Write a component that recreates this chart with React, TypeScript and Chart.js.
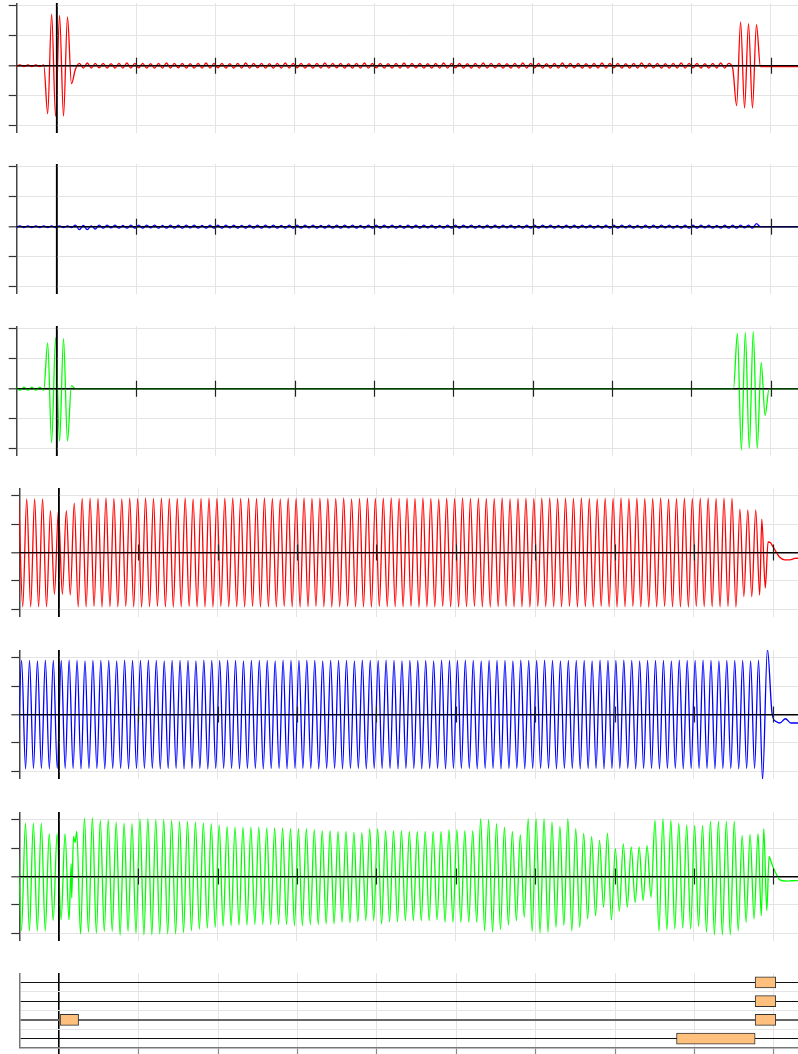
import React, { useEffect, useRef } from "react";
import { Chart, registerables } from "chart.js";

Chart.register(...registerables);

// ---------------- axes (time in ms) ----------------
const X_TICKS = [0, 20, 40, 60, 80, 100, 120, 140, 160, 180];
const WAVE_Y_TICKS = [-2, -1, 0, 1, 2];
const EVENT_Y_TICKS = [1, 1.5, 2, 2.5, 3, 3.5, 4];
// spacing between successive extrema (half an oscillation period), ms
const HALF_PERIOD_MS = 0.998;

// ---------------- panel 1 (red) ----------------
const P1_SEG_T0 = [-10.25, -2.27, 4.72, 171.4, 177.4, 186.9];
const P1_SEG_V = [
  [-0.03, 0.03, -0.03, 0.03, -0.03, 0.03, -0.03, 0.03],
  [-1.6, 1.72, -1.69, 1.68, -1.68, 1.63, -0.6],
  [
    -0.12,
    0.08, -0.08, 0.09, -0.08, 0.08, -0.07, 0.08, -0.08, 0.07, -0.08, 0.08, -0.08, 0.09, -0.08, 0.08, -0.07, 0.08, -0.08, 0.07, -0.08,
    0.08, -0.08, 0.09, -0.08, 0.08, -0.07, 0.08, -0.08, 0.07, -0.08, 0.08, -0.08, 0.09, -0.08, 0.08, -0.07, 0.08, -0.08, 0.07, -0.08,
    0.08, -0.08, 0.09, -0.08, 0.08, -0.07, 0.08, -0.08, 0.07, -0.08, 0.08, -0.08, 0.09, -0.08, 0.08, -0.07, 0.08, -0.08, 0.07, -0.08,
    0.08, -0.08, 0.09, -0.08, 0.08, -0.07, 0.08, -0.08, 0.07, -0.08, 0.08, -0.08, 0.09, -0.08, 0.08, -0.07, 0.08, -0.08, 0.07, -0.08,
    0.08, -0.08, 0.09, -0.08, 0.08, -0.07, 0.08, -0.08, 0.07, -0.08, 0.08, -0.08, 0.09, -0.08, 0.08, -0.07, 0.08, -0.08, 0.07, -0.08,
    0.08, -0.08, 0.09, -0.08, 0.08, -0.07, 0.08, -0.08, 0.07, -0.08, 0.08, -0.08, 0.09, -0.08, 0.08, -0.07, 0.08, -0.08, 0.07, -0.08,
    0.08, -0.08, 0.09, -0.08, 0.08, -0.07, 0.08, -0.08, 0.07, -0.08, 0.08, -0.08, 0.09, -0.08, 0.08, -0.07, 0.08, -0.08, 0.07, -0.08,
    0.08, -0.08, 0.09, -0.08, 0.08, -0.07, 0.08, -0.08, 0.07, -0.08, 0.08, -0.08, 0.09, -0.08, 0.08, -0.07, 0.08, -0.08, 0.07, -0.08,
    0.08, -0.08, 0.09, -0.08, 0.08, -0.07, 0.08, -0.08, 0.07, -0.08,
  ],
  [-1.33, 1.46, -1.41, 1.4, -1.41, 1.37],
  [-0.03],
  [-0.03],
];

// ---------------- panel 2 (blue) ----------------
const P2_SEG_T0 = [-10.25, 4.72, 10.71, 176.4, 186.9];
const P2_SEG_V = [
  [-0.03, 0.03, -0.03, 0.03, -0.03, 0.03, -0.03, 0.03, -0.03, 0.03, -0.03, 0.03, -0.03, 0.03, -0.03],
  [0.05, -0.1, 0.04, -0.1, 0.03, -0.08],
  [
    0.05, -0.05, 0.05, -0.04, 0.05, -0.05, 0.04, -0.05, 0.05, -0.05, 0.05, -0.05, 0.05, -0.04, 0.05, -0.05, 0.04, -0.05, 0.05, -0.05,
    0.05, -0.05, 0.05, -0.04, 0.05, -0.05, 0.04, -0.05, 0.05, -0.05, 0.05, -0.05, 0.05, -0.04, 0.05, -0.05, 0.04, -0.05, 0.05, -0.05,
    0.05, -0.05, 0.05, -0.04, 0.05, -0.05, 0.04, -0.05, 0.05, -0.05, 0.05, -0.05, 0.05, -0.04, 0.05, -0.05, 0.04, -0.05, 0.05, -0.05,
    0.05, -0.05, 0.05, -0.04, 0.05, -0.05, 0.04, -0.05, 0.05, -0.05, 0.05, -0.05, 0.05, -0.04, 0.05, -0.05, 0.04, -0.05, 0.05, -0.05,
    0.05, -0.05, 0.05, -0.04, 0.05, -0.05, 0.04, -0.05, 0.05, -0.05, 0.05, -0.05, 0.05, -0.04, 0.05, -0.05, 0.04, -0.05, 0.05, -0.05,
    0.05, -0.05, 0.05, -0.04, 0.05, -0.05, 0.04, -0.05, 0.05, -0.05, 0.05, -0.05, 0.05, -0.04, 0.05, -0.05, 0.04, -0.05, 0.05, -0.05,
    0.05, -0.05, 0.05, -0.04, 0.05, -0.05, 0.04, -0.05, 0.05, -0.05, 0.05, -0.05, 0.05, -0.04, 0.05, -0.05, 0.04, -0.05, 0.05, -0.05,
    0.05, -0.05, 0.05, -0.04, 0.05, -0.05, 0.04, -0.05, 0.05, -0.05, 0.05, -0.05, 0.05, -0.04, 0.05, -0.05, 0.04, -0.05, 0.05, -0.05,
    0.05, -0.05, 0.05, -0.04, 0.05, -0.05, 0.04, -0.05,
  ],
  [0.1, 0],
  [0],
];

// ---------------- panel 3 (green) ----------------
const P3_SEG_T0 = [-10.25, -2.27, 170.6, 186.9];
const P3_SEG_V = [
  [0.05, -0.05, 0.05, -0.05, 0.05, -0.05, 0.05, -0.05],
  [1.53, -1.8, 1.7, -1.75, 1.67, -1.75, 0.1, 0],
  [0, 1.84, -2.05, 1.88, -1.99, 1.91, -1.99, 0.88, -0.89, 0, 0],
  [0],
];

// ---------------- panel 4 (red) ----------------
const P4_SEG_T0 = [-10.08, 5.89, 171.56];
const P4_SEG_V = [
  [1.89, -1.91, 1.89, -1.91, 1.89, -1.91, 1.89, -1.91, 1.47, -1.47, 1.47, -1.47, 1.47, -1.5, 1.74, -1.91],
  [
    1.9, -1.91, 1.91, -1.9, 1.9, -1.92, 1.92, -1.91, 1.9, -1.91, 1.89, -1.9, 1.91, -1.91, 1.9, -1.92, 1.92, -1.91, 1.9, -1.9,
    1.91, -1.91, 1.9, -1.92, 1.9, -1.91, 1.92, -1.9, 1.89, -1.91, 1.9, -1.91, 1.91, -1.92, 1.9, -1.9, 1.91, -1.91, 1.92, -1.91,
    1.9, -1.91, 1.91, -1.9, 1.9, -1.92, 1.92, -1.91, 1.9, -1.91, 1.89, -1.9, 1.91, -1.91, 1.9, -1.92, 1.92, -1.91, 1.9, -1.9,
    1.91, -1.91, 1.9, -1.92, 1.9, -1.91, 1.92, -1.9, 1.89, -1.91, 1.9, -1.91, 1.91, -1.92, 1.9, -1.9, 1.91, -1.91, 1.92, -1.91,
    1.9, -1.91, 1.91, -1.9, 1.9, -1.92, 1.92, -1.91, 1.9, -1.91, 1.89, -1.9, 1.91, -1.91, 1.9, -1.92, 1.92, -1.91, 1.9, -1.9,
    1.91, -1.91, 1.9, -1.92, 1.9, -1.91, 1.92, -1.9, 1.89, -1.91, 1.9, -1.91, 1.91, -1.92, 1.9, -1.9, 1.91, -1.91, 1.92, -1.91,
    1.9, -1.91, 1.91, -1.9, 1.9, -1.92, 1.92, -1.91, 1.9, -1.91, 1.89, -1.9, 1.91, -1.91, 1.9, -1.92, 1.92, -1.91, 1.9, -1.9,
    1.91, -1.91, 1.9, -1.92, 1.9, -1.91, 1.92, -1.9, 1.89, -1.91, 1.9, -1.91, 1.91, -1.92, 1.9, -1.9, 1.91, -1.91, 1.92, -1.91,
    1.9, -1.91, 1.91, -1.9, 1.9, -1.92, 1.92, -1.91, 1.9, -1.91,
  ],
  [1.53, -1.55, 1.5, -1.55, 1.5, -1.5],
];
const P4_TAIL_T = [177.08, 177.96, 178.66, 179.22, 179.92, 180.78, 181.61, 182.87, 184.13, 185.39, 186.6];
const P4_TAIL_V = [1.17, -1.25, 0.37, 0.35, 0.2, 0.0, -0.17, -0.26, -0.26, -0.21, -0.2];

// ---------------- panel 5 (blue) ----------------
const P5_SEG_T0 = [-10.37];
const P5_SEG_V = [
  [
    -1.9, 1.9, -1.91, 1.9, -1.9, 1.89, -1.9, 1.91, -1.91, 1.9, -1.9, 1.9, -1.9, 1.91, -1.9, 1.9, -1.91, 1.89, -1.9, 1.9,
    -1.9, 1.9, -1.91, 1.9, -1.9, 1.89, -1.9, 1.91, -1.91, 1.9, -1.9, 1.9, -1.9, 1.91, -1.9, 1.9, -1.91, 1.89, -1.9, 1.9,
    -1.9, 1.9, -1.91, 1.9, -1.9, 1.89, -1.9, 1.91, -1.91, 1.9, -1.9, 1.9, -1.9, 1.91, -1.9, 1.9, -1.91, 1.89, -1.9, 1.9,
    -1.9, 1.9, -1.91, 1.9, -1.9, 1.89, -1.9, 1.91, -1.91, 1.9, -1.9, 1.9, -1.9, 1.91, -1.9, 1.9, -1.91, 1.89, -1.9, 1.9,
    -1.9, 1.9, -1.91, 1.9, -1.9, 1.89, -1.9, 1.91, -1.91, 1.9, -1.9, 1.9, -1.9, 1.91, -1.9, 1.9, -1.91, 1.89, -1.9, 1.9,
    -1.9, 1.9, -1.91, 1.9, -1.9, 1.89, -1.9, 1.91, -1.91, 1.9, -1.9, 1.9, -1.9, 1.91, -1.9, 1.9, -1.91, 1.89, -1.9, 1.9,
    -1.9, 1.9, -1.91, 1.9, -1.9, 1.89, -1.9, 1.91, -1.91, 1.9, -1.9, 1.9, -1.9, 1.91, -1.9, 1.9, -1.91, 1.89, -1.9, 1.9,
    -1.9, 1.9, -1.91, 1.9, -1.9, 1.89, -1.9, 1.91, -1.91, 1.9, -1.9, 1.9, -1.9, 1.91, -1.9, 1.9, -1.91, 1.89, -1.9, 1.9,
    -1.9, 1.9, -1.91, 1.9, -1.9, 1.89, -1.9, 1.91, -1.91, 1.9, -1.9, 1.9, -1.9, 1.91, -1.9, 1.9, -1.91, 1.89, -1.9, 1.9,
    -1.9, 1.9, -1.91, 1.9, -1.9, 1.89, -1.9, 1.91, -1.91, 1.9,
  ],
];
const P5_TAIL_T = [177.28, 178.5, 179.7, 180.7, 181.6, 183.05, 184.4, 186.6];
const P5_TAIL_V = [-2.28, 2.3, 0.0, -0.25, -0.3, -0.15, -0.3, -0.3];

// ---------------- panel 6 (green) ----------------
const P6A_T0 = -10.4;
const P6A_V = [1.88, -1.91, 1.88, -1.91, 1.88, -1.91, 1.88, -1.91, 1.51, -1.55, 1.51, -1.53, 1.51, -1.53];
const P6_GLITCH_T = [3.12, 3.25, 3.7, 4.1, 4.53];
const P6_GLITCH_V = [0.45, -0.75, 1.41, 1.2, 1.59];
const P6B_T0 = 5.47;
const P6_BOTTOMS = [
  -2.02, -1.96, -2.0, -1.94, -1.93, -2.07, -1.93, -2.0, -2.05, -2.05,
  -2.02, -2.02, -2.02, -1.98, -1.91, -1.86, -1.82, -1.79, -1.75, -1.73,
  -1.71, -1.71, -1.69, -1.69, -1.69, -1.69, -1.69, -1.73, -1.73, -1.69,
  -1.69, -1.67, -1.67, -1.61, -1.63, -1.59, -1.55, -1.55, -1.67, -1.59,
  -1.59, -1.55, -1.55, -1.55, -1.55, -1.53, -1.61, -1.61, -1.61, -1.61,
  -1.61, -1.91, -1.96, -1.87, -1.71, -1.55, -1.44, -1.94, -1.99, -1.96,
  -1.79, -1.73, -1.91, -1.79, -1.49, -1.38, -1.08, -1.53, -1.22, -1.08,
  -0.91, -0.85, -0.73, -1.93, -1.88, -1.85, -1.82, -1.85, -1.76, -1.96,
  -2.05, -2.05, -2.05, -1.91, -1.61, -1.49,
];
const P6_TOPS = [
  2.06, 2.07, 1.98, 2.0, 1.91, 1.88, 1.86, 2.04, 2.04, 2.01,
  2.01, 1.98, 1.94, 1.94, 1.91, 1.89, 1.86, 1.82, 1.76, 1.74,
  1.74, 1.74, 1.74, 1.71, 1.71, 1.71, 1.68, 1.68, 1.68, 1.65,
  1.61, 1.61, 1.59, 1.59, 1.56, 1.54, 1.68, 1.68, 1.61, 1.61,
  1.61, 1.59, 1.59, 1.59, 1.59, 1.59, 1.65, 1.65, 1.61, 1.61,
  2.04, 2.01, 1.86, 1.74, 1.59, 1.47, 2.04, 2.04, 2.04, 1.92,
  1.76, 2.04, 1.68, 1.53, 1.41, 1.27, 1.53, 0.98, 1.15, 1.04,
  1.04, 1.09, 1.98, 2.04, 1.98, 1.88, 1.82, 1.8, 1.8, 1.95,
  1.95, 1.95, 1.95, 1.45, 1.48, 1.51,
];
const P6_TAIL_T = [176.95, 177.58, 178.34, 178.92, 179.35, 179.92, 180.86, 181.61, 183.3, 184.6, 186.6];
const P6_TAIL_V = [-1.38, 1.68, -1.2, 0.71, 0.55, 0.33, 0.05, -0.12, -0.16, -0.15, -0.14];

// ---------------- panel 7 (event boxes) ----------------
const BOX_LEVELS = [4, 3, 2, 2, 1];
const BOX_STARTS = [175.3, 175.3, 0, 175.3, 155.5];
const BOX_ENDS = [180.5, 180.5, 4.86, 180.5, 175.3];

// ---------------- helpers ----------------
type Pt = { x: number; y: number };

function gridPiece(t0: number, vals: number[]): Pt[] {
  return vals.map((v, i) => ({ x: t0 + i * HALF_PERIOD_MS, y: v }));
}
function listPiece(ts: number[], vs: number[]): Pt[] {
  return ts.map((t, i) => ({ x: t, y: vs[i] }));
}
function joinPieces(pieces: Pt[][]): Pt[] {
  const out: Pt[] = [];
  pieces.forEach((p, i) => {
    const next = pieces[i + 1];
    const limit = next && next.length ? next[0].x - 0.2 : Infinity;
    p.forEach((pt) => {
      if (pt.x < limit) out.push(pt);
    });
  });
  return out;
}
function segPieces(t0s: number[], vals: number[][]): Pt[][] {
  return t0s.map((t0, i) => gridPiece(t0, vals[i]));
}
function interleave(a: number[], b: number[]): number[] {
  const out: number[] = [];
  a.forEach((v, i) => {
    out.push(v);
    if (i < b.length) out.push(b[i]);
  });
  return out;
}

const GRID_COLOR = "#e4e4e4";
const isZero = (ctx: any) => ctx.tick && ctx.tick.value === 0;
const zeroColor = (ctx: any) => (isZero(ctx) ? "#000" : GRID_COLOR);
const zeroWidth = (ctx: any) => (isZero(ctx) ? 1.6 : 1);
const setTicks = (vals: number[]) => (scale: any) => {
  scale.ticks = vals.map((v) => ({ value: v }));
};

// zero lines and the tick marks on the zero line are drawn over the traces
const axisOverlayPlugin = {
  id: "axisOverlay",
  afterDatasetsDraw(chart: any) {
    const xs = chart.scales.x;
    const ys = chart.scales.y;
    const area = chart.chartArea;
    const y0 = ys.getPixelForValue(0);
    const x0 = xs.getPixelForValue(0);
    const ctx = chart.ctx;
    ctx.save();
    ctx.strokeStyle = "#000";
    ctx.lineWidth = 1.1;
    ctx.beginPath();
    ctx.moveTo(area.left, y0);
    ctx.lineTo(area.right, y0);
    ctx.stroke();
    ctx.lineWidth = 1.6;
    ctx.beginPath();
    ctx.moveTo(x0, area.top);
    ctx.lineTo(x0, area.bottom);
    ctx.stroke();
    ctx.strokeStyle = "#222";
    ctx.lineWidth = 1.2;
    X_TICKS.forEach((v) => {
      if (v === 0) return;
      const px = Math.round(xs.getPixelForValue(v)) + 0.5;
      ctx.beginPath();
      ctx.moveTo(px, y0 - 8);
      ctx.lineTo(px, y0 + 8);
      ctx.stroke();
    });
    ctx.restore();
  },
};

function waveConfig(p: any) {
  return {
    type: "line",
    data: {
      datasets: [
        {
          data: p.points,
          borderColor: p.color,
          borderWidth: 1.3,
          pointRadius: 0,
          fill: false,
          cubicInterpolationMode: "monotone",
        },
      ],
    },
    options: {
      responsive: false,
      maintainAspectRatio: false,
      animation: false,
      events: [],
      layout: { padding: 0 },
      plugins: { legend: { display: false }, tooltip: { enabled: false } },
      scales: {
        x: {
          type: "linear",
          min: p.xMin,
          max: p.xMax,
          afterBuildTicks: setTicks(X_TICKS),
          afterFit: (s: any) => {
            s.height = 0;
          },
          ticks: { display: false },
          border: { display: false },
          grid: { drawTicks: false, color: zeroColor, lineWidth: zeroWidth },
        },
        y: {
          type: "linear",
          min: p.yMin,
          max: p.yMax,
          afterBuildTicks: setTicks(WAVE_Y_TICKS),
          afterFit: (s: any) => {
            s.width = p.axisW;
          },
          ticks: { display: false },
          border: { display: true, color: "#444", width: 1.5 },
          grid: {
            drawTicks: true,
            tickLength: 8,
            tickColor: "#333",
            tickWidth: 1.2,
            color: zeroColor,
            lineWidth: zeroWidth,
          },
        },
      },
    },
    plugins: [axisOverlayPlugin],
  };
}

function eventConfig(p: any) {
  const data = BOX_LEVELS.map((lvl, i) => ({ x: [BOX_STARTS[i], BOX_ENDS[i]], y: lvl }));
  const lvlColor = (ctx: any) => {
    const v = ctx.tick ? ctx.tick.value : 0;
    if (Number.isInteger(v)) return v === 2 ? "#666" : "#111";
    return GRID_COLOR;
  };
  const lvlWidth = (ctx: any) => {
    const v = ctx.tick ? ctx.tick.value : 0;
    if (Number.isInteger(v)) return v === 2 ? 2 : 1.1;
    return 1;
  };
  return {
    type: "bar",
    data: {
      datasets: [
        {
          data,
          indexAxis: "y",
          backgroundColor: "#ffc07e",
          borderColor: "#333",
          borderWidth: 1,
          borderSkipped: false,
          barThickness: 11,
          grouped: false,
        },
      ],
    },
    options: {
      indexAxis: "y",
      responsive: false,
      maintainAspectRatio: false,
      animation: false,
      events: [],
      layout: { padding: 0 },
      plugins: { legend: { display: false }, tooltip: { enabled: false } },
      scales: {
        x: {
          type: "linear",
          position: "bottom",
          min: p.xMin,
          max: p.xMax,
          offset: false,
          afterBuildTicks: setTicks(X_TICKS),
          afterFit: (s: any) => {
            s.height = 6;
          },
          ticks: { display: false },
          border: { display: true, color: "#777", width: 1.5 },
          grid: {
            offset: false,
            drawTicks: true,
            tickLength: 8,
            color: zeroColor,
            lineWidth: zeroWidth,
            tickColor: (ctx: any) => (isZero(ctx) ? "#000" : "#888"),
            tickWidth: (ctx: any) => (isZero(ctx) ? 1.6 : 1.2),
          },
        },
        y: {
          type: "linear",
          min: 0.5,
          max: 4.5,
          offset: false,
          afterBuildTicks: setTicks(EVENT_Y_TICKS),
          afterFit: (s: any) => {
            s.width = p.axisW;
          },
          ticks: { display: false },
          border: { display: true, color: "#777", width: 1.5 },
          grid: { offset: false, drawTicks: false, color: lvlColor, lineWidth: lvlWidth },
        },
      },
    },
  };
}

function ChartCanvas({ top, height, config }: { top: number; height: number; config: () => any }) {
  const ref = useRef<HTMLCanvasElement | null>(null);
  useEffect(() => {
    const chart = new Chart(ref.current as HTMLCanvasElement, config() as any);
    return () => chart.destroy();
  }, []);
  return (
    <canvas
      ref={ref}
      width={790}
      height={height}
      style={{ position: "absolute", left: 8, top, width: 790, height, display: "block" }}
    />
  );
}

// layout (pixels)
const UPPER = { xMin: -10.08, xMax: 186.87, yMin: -2.243, yMax: 2.09, axisW: 8.7, height: 130 };
const LOWER = { xMin: -9.95, xMax: 186.2, yMin: -2.27, yMax: 2.27, axisW: 11.3, height: 129 };

export default function App() {
  const p1 = joinPieces(segPieces(P1_SEG_T0, P1_SEG_V));
  const p2 = joinPieces(segPieces(P2_SEG_T0, P2_SEG_V));
  const p3 = joinPieces(segPieces(P3_SEG_T0, P3_SEG_V));
  const p4 = joinPieces([...segPieces(P4_SEG_T0, P4_SEG_V), listPiece(P4_TAIL_T, P4_TAIL_V)]);
  const p5 = joinPieces([...segPieces(P5_SEG_T0, P5_SEG_V), listPiece(P5_TAIL_T, P5_TAIL_V)]);
  const p6 = joinPieces([
    gridPiece(P6A_T0, P6A_V),
    listPiece(P6_GLITCH_T, P6_GLITCH_V),
    gridPiece(P6B_T0, interleave(P6_BOTTOMS, P6_TOPS)),
    listPiece(P6_TAIL_T, P6_TAIL_V),
  ]);

  const panels = [
    { top: 3, pts: p1, color: "#ff0000", L: UPPER },
    { top: 164, pts: p2, color: "#0000ff", L: UPPER },
    { top: 326, pts: p3, color: "#00ff00", L: UPPER },
    { top: 488, pts: p4, color: "#ff0000", L: LOWER },
    { top: 650, pts: p5, color: "#0000ff", L: LOWER },
    { top: 812, pts: p6, color: "#00ff00", L: LOWER },
  ];

  return (
    <div
      style={{
        position: "fixed",
        left: 0,
        top: 0,
        width: 798,
        height: 1054,
        overflow: "hidden",
        background: "#fff",
      }}
    >
      {panels.map((pn, i) => (
        <ChartCanvas
          key={i}
          top={pn.top}
          height={pn.L.height}
          config={() =>
            waveConfig({
              points: pn.pts,
              color: pn.color,
              xMin: pn.L.xMin,
              xMax: pn.L.xMax,
              yMin: pn.L.yMin,
              yMax: pn.L.yMax,
              axisW: pn.L.axisW,
            })
          }
        />
      ))}
      <ChartCanvas
        top={973}
        height={81}
        config={() => eventConfig({ xMin: -9.9, xMax: 186.1, axisW: 12 })}
      />
    </div>
  );
}
